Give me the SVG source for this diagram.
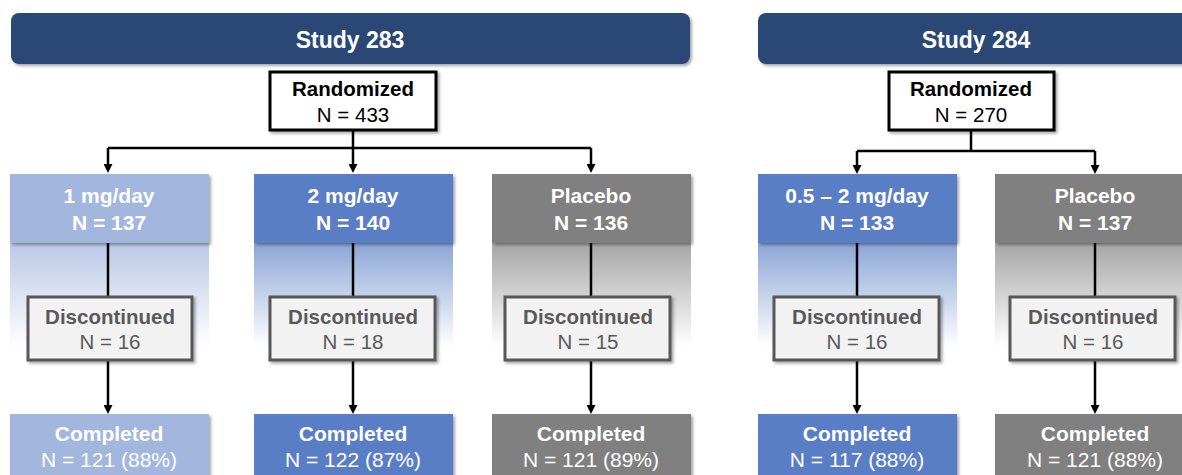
<svg xmlns="http://www.w3.org/2000/svg" width="1182" height="475" viewBox="0 0 1182 475">
<style>
text{font-family:"Liberation Sans",Arial,sans-serif;text-anchor:middle}
.hdr{fill:#2C4775}
.ht{fill:#fff;font-size:23px;font-weight:bold}
.rand{fill:#fff;stroke:#000;stroke-width:3}
.rt{fill:#000;font-size:20.5px}
.b{font-weight:bold}
.wt{fill:#fff;font-size:21px}
.disc{fill:#F2F2F2;stroke:#595959;stroke-width:3}
.dt{fill:#595959;font-size:20.5px}
.lb{fill:#A3B6DE}
.mb{fill:#5A7EC5}
.gr{fill:#808080}
.con{stroke:#000;stroke-width:2.5;fill:none}
.arr{stroke:#000;stroke-width:2.5;fill:none;marker-end:url(#ah)}
</style>
<defs>
<marker id="ah" viewBox="0 0 10 10" refX="0" refY="5" markerWidth="9" markerHeight="9" markerUnits="userSpaceOnUse" orient="auto"><path d="M0,0 L10,5 L0,10 z" fill="#000"/></marker>
<filter id="sh" x="-5%" y="-10%" width="115%" height="130%"><feDropShadow dx="2" dy="2" stdDeviation="1.5" flood-color="#000" flood-opacity="0.35"/></filter>
<linearGradient id="gLB" x1="0" y1="0" x2="0" y2="1"><stop offset="0" stop-color="#A3B6DE" stop-opacity="0.75"/><stop offset="0.85" stop-color="#A3B6DE" stop-opacity="0"/></linearGradient>
<linearGradient id="gMB" x1="0" y1="0" x2="0" y2="1"><stop offset="0" stop-color="#5A7EC5" stop-opacity="0.7"/><stop offset="0.85" stop-color="#5A7EC5" stop-opacity="0"/></linearGradient>
<linearGradient id="gGR" x1="0" y1="0" x2="0" y2="1"><stop offset="0" stop-color="#808080" stop-opacity="0.7"/><stop offset="0.85" stop-color="#808080" stop-opacity="0"/></linearGradient>
</defs>

<g id="panels">
<rect x="10" y="243" width="199" height="122" fill="url(#gLB)"/>
<rect x="254" y="243" width="199" height="122" fill="url(#gMB)"/>
<rect x="492" y="243" width="199" height="122" fill="url(#gGR)"/>
<rect x="758" y="243" width="199" height="122" fill="url(#gMB)"/>
<rect x="995" y="243" width="199" height="122" fill="url(#gGR)"/>
</g>

<g id="connectors">
<path class="con" d="M353,131 V148 M108,148 H591"/>
<path class="arr" d="M108,148 V164"/>
<path class="arr" d="M353,148 V164"/>
<path class="arr" d="M591,148 V164"/>
<path class="con" d="M108,243 V296 M353,243 V296 M591,243 V296"/>
<path class="arr" d="M108,361 V405"/>
<path class="arr" d="M353,361 V405"/>
<path class="arr" d="M591,361 V405"/>
<path class="con" d="M971,131 V151 M857,151 H1095"/>
<path class="arr" d="M857,151 V165"/>
<path class="arr" d="M1095,151 V165"/>
<path class="con" d="M857,243 V296 M1095,243 V296"/>
<path class="arr" d="M857,361 V405"/>
<path class="arr" d="M1095,361 V405"/>
</g>

<g id="header-283"><rect class="hdr" x="11" y="13" width="679" height="51" rx="8" filter="url(#sh)"/><text class="ht" x="350" y="48">Study 283</text></g>
<g id="header-284"><rect class="hdr" x="758" y="13" width="440" height="51" rx="8" filter="url(#sh)"/><text class="ht" x="976" y="48">Study 284</text></g>

<g id="rand-283"><rect class="rand" x="270" y="72" width="166" height="58" filter="url(#sh)"/><text class="rt b" x="353" y="96">Randomized</text><text class="rt" x="353" y="122">N = 433</text></g>
<g id="rand-284"><rect class="rand" x="889" y="72" width="165" height="58" filter="url(#sh)"/><text class="rt b" x="971" y="96">Randomized</text><text class="rt" x="971" y="122">N = 270</text></g>

<g id="arm-1mg"><rect class="lb" x="10" y="174" width="199" height="69" filter="url(#sh)"/><text class="wt b" x="109" y="203">1 mg/day</text><text class="wt b" x="109" y="230">N = 137</text></g>
<g id="arm-2mg"><rect class="mb" x="254" y="174" width="199" height="69" filter="url(#sh)"/><text class="wt b" x="353" y="203">2 mg/day</text><text class="wt b" x="353" y="230">N = 140</text></g>
<g id="arm-pbo-283"><rect class="gr" x="492" y="174" width="199" height="69" filter="url(#sh)"/><text class="wt b" x="591" y="203">Placebo</text><text class="wt b" x="591" y="230">N = 136</text></g>
<g id="arm-05-2mg"><rect class="mb" x="758" y="174" width="199" height="69" filter="url(#sh)"/><text class="wt b" x="857" y="203">0.5 – 2 mg/day</text><text class="wt b" x="857" y="230">N = 133</text></g>
<g id="arm-pbo-284"><rect class="gr" x="995" y="174" width="199" height="69" filter="url(#sh)"/><text class="wt b" x="1095" y="203">Placebo</text><text class="wt b" x="1095" y="230">N = 137</text></g>

<g id="disc-1mg"><rect class="disc" x="28" y="297" width="164" height="63" filter="url(#sh)"/><text class="dt b" x="110" y="324">Discontinued</text><text class="dt" x="110" y="349">N = 16</text></g>
<g id="disc-2mg"><rect class="disc" x="270" y="297" width="165" height="63" filter="url(#sh)"/><text class="dt b" x="353" y="324">Discontinued</text><text class="dt" x="353" y="349">N = 18</text></g>
<g id="disc-pbo-283"><rect class="disc" x="505" y="297" width="165" height="63" filter="url(#sh)"/><text class="dt b" x="588" y="324">Discontinued</text><text class="dt" x="588" y="349">N = 15</text></g>
<g id="disc-05-2mg"><rect class="disc" x="774" y="297" width="165" height="63" filter="url(#sh)"/><text class="dt b" x="857" y="324">Discontinued</text><text class="dt" x="857" y="349">N = 16</text></g>
<g id="disc-pbo-284"><rect class="disc" x="1010" y="297" width="165" height="63" filter="url(#sh)"/><text class="dt b" x="1093" y="324">Discontinued</text><text class="dt" x="1093" y="349">N = 16</text></g>

<g id="comp-1mg"><rect class="lb" x="10" y="414" width="199" height="70" filter="url(#sh)"/><text class="wt b" x="109" y="441">Completed</text><text class="wt" x="109" y="467">N = 121 (88%)</text></g>
<g id="comp-2mg"><rect class="mb" x="254" y="414" width="199" height="70" filter="url(#sh)"/><text class="wt b" x="353" y="441">Completed</text><text class="wt" x="353" y="467">N = 122 (87%)</text></g>
<g id="comp-pbo-283"><rect class="gr" x="492" y="414" width="199" height="70" filter="url(#sh)"/><text class="wt b" x="591" y="441">Completed</text><text class="wt" x="591" y="467">N = 121 (89%)</text></g>
<g id="comp-05-2mg"><rect class="mb" x="758" y="414" width="199" height="70" filter="url(#sh)"/><text class="wt b" x="857" y="441">Completed</text><text class="wt" x="857" y="467">N = 117 (88%)</text></g>
<g id="comp-pbo-284"><rect class="gr" x="995" y="414" width="199" height="70" filter="url(#sh)"/><text class="wt b" x="1095" y="441">Completed</text><text class="wt" x="1095" y="467">N = 121 (88%)</text></g>
</svg>
